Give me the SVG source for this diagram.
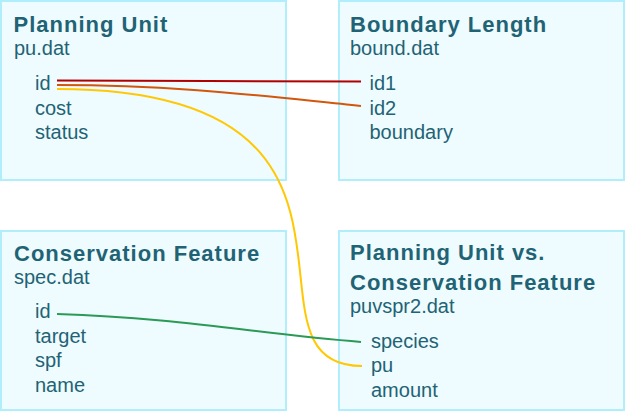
<svg xmlns="http://www.w3.org/2000/svg" width="625" height="411" viewBox="0 0 625 411">
<style>
.box{fill:#eefbff;stroke:#b0eefc;stroke-width:2}
text{font-family:"Liberation Sans",Arial,sans-serif;fill:#1f6374}
.title{font-size:22px;font-weight:bold;letter-spacing:1px}
.sub{font-size:20px}
.fld{font-size:20px}
.link{fill:none;stroke-width:2}
</style>
<rect width="625" height="411" fill="#ffffff"/>
<g id="planning-unit">
<rect class="box" x="1" y="1" width="285" height="179"/>
<text class="title" x="13.5" y="32">Planning Unit</text>
<text class="sub" x="14" y="54.5">pu.dat</text>
<text class="fld" x="35" y="90">id</text>
<text class="fld" x="35" y="114.5">cost</text>
<text class="fld" x="35" y="139">status</text>
</g>
<g id="boundary-length">
<rect class="box" x="339" y="1" width="285" height="179"/>
<text class="title" x="350" y="32">Boundary Length</text>
<text class="sub" x="350" y="54.5">bound.dat</text>
<text class="fld" x="369.5" y="90">id1</text>
<text class="fld" x="369.5" y="114.5">id2</text>
<text class="fld" x="369.5" y="139">boundary</text>
</g>
<g id="conservation-feature">
<rect class="box" x="1" y="231" width="285" height="179"/>
<text class="title" x="14" y="260.5">Conservation Feature</text>
<text class="sub" x="14" y="283.5">spec.dat</text>
<text class="fld" x="35" y="318">id</text>
<text class="fld" x="35" y="342.5">target</text>
<text class="fld" x="35" y="367">spf</text>
<text class="fld" x="35" y="391.5">name</text>
</g>
<g id="pu-vs-cf">
<rect class="box" x="339" y="231" width="285" height="179"/>
<text class="title" x="350" y="259.5">Planning Unit vs.</text>
<text class="title" x="350" y="290">Conservation Feature</text>
<text class="sub" x="350" y="312.5">puvspr2.dat</text>
<text class="fld" x="371" y="347.5">species</text>
<text class="fld" x="371" y="371.5">pu</text>
<text class="fld" x="371" y="396.5">amount</text>
</g>
<g id="connectors">
<path class="link" stroke="#b00000" d="M57,80.5 C209,80.5 209,81.5 361,81.5"/>
<path class="link" stroke="#d2560c" d="M57,85 C180,85 261,96 361,106"/>
<path class="link" stroke="#ffc800" d="M57,89 C419,89 225,366 362,366"/>
<path class="link" stroke="#2a9a55" d="M57,314 C180,318 260,334 361,342"/>
</g>
</svg>
